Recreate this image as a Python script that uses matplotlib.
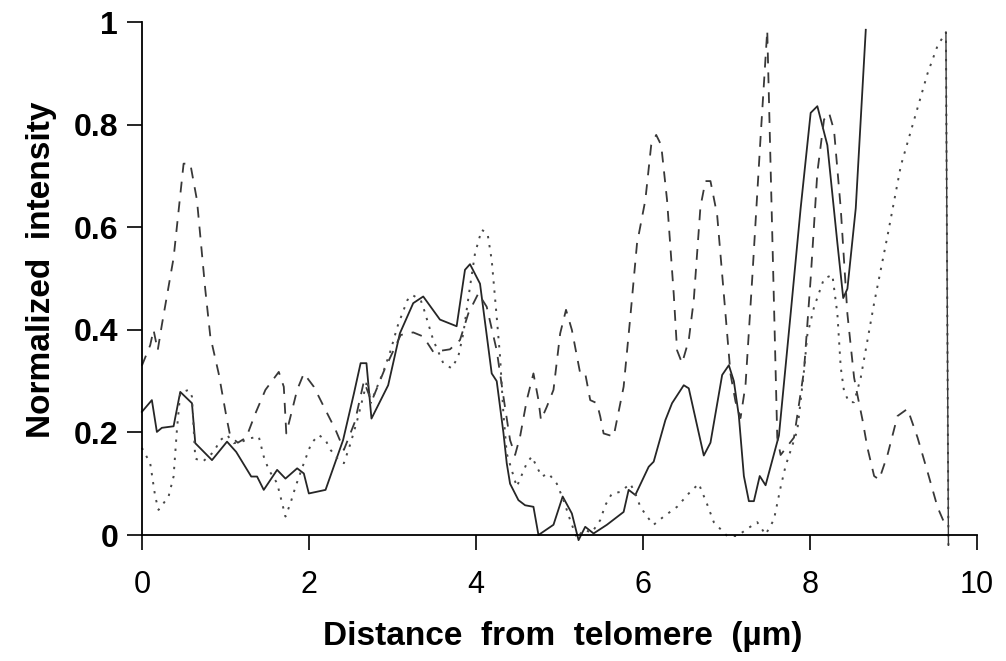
import numpy as np
import matplotlib
matplotlib.use("Agg")
import matplotlib.pyplot as plt

plt.rcParams['font.family'] = ['Liberation Sans', 'DejaVu Sans']

# solid profile
solid_x = [0, 0.12, 0.18, 0.24, 0.38, 0.46, 0.6, 0.64, 0.84, 1.02, 1.13, 1.31, 1.38, 1.46,
           1.62, 1.72, 1.86, 1.94, 2.0, 2.2, 2.41, 2.54, 2.62, 2.69, 2.75, 2.95, 3.09, 3.25,
           3.37, 3.57, 3.77, 3.87, 3.93, 4.05, 4.19, 4.25, 4.33, 4.37, 4.41, 4.51, 4.59, 4.69,
           4.75, 4.93, 5.04, 5.15, 5.23, 5.31, 5.41, 5.57, 5.77, 5.83, 5.91, 6.07, 6.13, 6.27,
           6.35, 6.49, 6.55, 6.73, 6.81, 6.95, 7.03, 7.09, 7.15, 7.21, 7.27, 7.33, 7.4, 7.47,
           7.63, 7.77, 7.89, 8.01, 8.09, 8.21, 8.33, 8.4, 8.45, 8.55, 8.67]
solid_y = [0.24, 0.263, 0.201, 0.209, 0.212, 0.279, 0.257, 0.179, 0.146, 0.182, 0.162, 0.114,
           0.114, 0.088, 0.127, 0.11, 0.13, 0.12, 0.081, 0.088, 0.185, 0.276, 0.335, 0.335,
           0.227, 0.292, 0.393, 0.452, 0.465, 0.42, 0.407, 0.517, 0.528, 0.49, 0.315, 0.3,
           0.2, 0.14, 0.1, 0.068, 0.058, 0.055, 0.0, 0.02, 0.075, 0.042, -0.01, 0.016, 0.003,
           0.02, 0.045, 0.088, 0.078, 0.133, 0.143, 0.224, 0.257, 0.292, 0.286, 0.155, 0.18,
           0.312, 0.331, 0.3, 0.232, 0.115, 0.066, 0.066, 0.115, 0.097, 0.194, 0.431, 0.637,
           0.823, 0.836, 0.76, 0.569, 0.462, 0.48, 0.637, 0.985]

# dashed profile
dash_x = [0, 0.1, 0.14, 0.19, 0.24, 0.38, 0.5, 0.58, 0.66, 0.76, 0.82, 0.92, 1.02, 1.06,
          1.15, 1.25, 1.36, 1.48, 1.64, 1.7, 1.73, 1.86, 1.94, 2.06, 2.18, 2.32, 2.42, 2.55,
          2.66, 2.75, 2.9, 3.1, 3.25, 3.37, 3.49, 3.69, 3.81, 3.91, 4.03, 4.13, 4.25, 4.33,
          4.41, 4.47, 4.53, 4.61, 4.69, 4.75, 4.78, 4.85, 4.93, 5.01, 5.08, 5.15, 5.25, 5.31,
          5.37, 5.45, 5.49, 5.53, 5.65, 5.77, 5.85, 5.93, 6.03, 6.1, 6.16, 6.22, 6.29, 6.37,
          6.41, 6.47, 6.55, 6.61, 6.69, 6.75, 6.81, 6.89, 6.99, 7.05, 7.11, 7.17, 7.23, 7.31,
          7.41, 7.49, 7.61, 7.65, 7.81, 7.93, 8.01, 8.09, 8.17, 8.23, 8.29, 8.37, 8.45, 8.53,
          8.57, 8.63, 8.69, 8.77, 8.83, 8.93, 9.05, 9.17, 9.29, 9.41, 9.53, 9.62]
dash_y = [0.33, 0.37, 0.4, 0.36, 0.41, 0.54, 0.724, 0.724, 0.653, 0.478, 0.387, 0.315, 0.224,
          0.192, 0.18, 0.19, 0.237, 0.283, 0.318, 0.289, 0.198, 0.283, 0.315, 0.289, 0.25,
          0.205, 0.166, 0.22, 0.3, 0.26, 0.32, 0.39, 0.395, 0.387, 0.357, 0.362, 0.38, 0.432,
          0.471, 0.445, 0.36, 0.27, 0.185, 0.156, 0.192, 0.263, 0.315, 0.263, 0.224, 0.25,
          0.283, 0.393, 0.439, 0.4, 0.315, 0.315, 0.263, 0.257, 0.231, 0.198, 0.192, 0.289,
          0.425, 0.568, 0.653, 0.76, 0.78, 0.76, 0.653, 0.47, 0.36, 0.335, 0.38, 0.458, 0.64,
          0.69, 0.69, 0.624, 0.431, 0.314, 0.26, 0.228, 0.293, 0.5, 0.775, 0.984, 0.19, 0.156,
          0.19, 0.32, 0.5, 0.707, 0.81, 0.823, 0.789, 0.637, 0.431, 0.307, 0.273, 0.225, 0.17,
          0.115, 0.108, 0.156, 0.232, 0.246, 0.19, 0.123, 0.054, 0.02]

# dotted profile
dot_x = [0, 0.1, 0.16, 0.2, 0.32, 0.38, 0.42, 0.46, 0.56, 0.6, 0.64, 0.73, 0.86, 0.94, 1.02,
         1.1, 1.2, 1.28, 1.4, 1.46, 1.52, 1.62, 1.68, 1.72, 1.78, 1.84, 1.94, 2.03, 2.12,
         2.2, 2.26, 2.36, 2.42, 2.5, 2.58, 2.66, 2.7, 2.74, 2.9, 2.98, 3.06, 3.18, 3.24,
         3.34, 3.38, 3.49, 3.61, 3.71, 3.79, 3.85, 3.93, 3.99, 4.07, 4.14, 4.19, 4.25, 4.29,
         4.33, 4.37, 4.49, 4.61, 4.67, 4.73, 4.79, 4.87, 4.97, 5.05, 5.13, 5.21, 5.29, 5.39,
         5.49, 5.55, 5.63, 5.73, 5.85, 5.91, 5.97, 6.05, 6.13, 6.25, 6.41, 6.55, 6.67, 6.77,
         6.85, 7.01, 7.13, 7.25, 7.37, 7.47, 7.57, 7.65, 7.71, 7.85, 7.93, 7.97, 8.05, 8.17,
         8.27, 8.33, 8.37, 8.41, 8.47, 8.53, 8.61, 8.77, 8.93, 9.09, 9.25, 9.41, 9.53, 9.63,
         9.66]
dot_y = [0.17, 0.14, 0.075, 0.049, 0.075, 0.114, 0.205, 0.277, 0.283, 0.27, 0.149, 0.143,
         0.162, 0.185, 0.195, 0.179, 0.182, 0.188, 0.192, 0.153, 0.127, 0.101, 0.062, 0.036,
         0.062, 0.094, 0.14, 0.179, 0.195, 0.185, 0.166, 0.146, 0.14, 0.179, 0.224, 0.276,
         0.302, 0.257, 0.322, 0.36, 0.406, 0.458, 0.468, 0.458, 0.439, 0.38, 0.335, 0.325,
         0.348, 0.393, 0.484, 0.549, 0.595, 0.588, 0.536, 0.425, 0.348, 0.237, 0.159, 0.094,
         0.14, 0.153, 0.133, 0.114, 0.12, 0.1, 0.068, 0.029, -0.006, 0.01, 0.005, 0.029,
         0.058, 0.081, 0.084, 0.1, 0.081, 0.055, 0.036, 0.02, 0.036, 0.055, 0.081, 0.1, 0.06,
         0.025, -0.002, -0.002, 0.012, 0.025, 0.001, 0.03, 0.093, 0.135, 0.204, 0.32, 0.39,
         0.444, 0.5, 0.507, 0.431, 0.327, 0.28, 0.259, 0.259, 0.307, 0.452, 0.583, 0.72,
         0.81, 0.9, 0.954, 0.98, -0.02]

x_ticks = [0, 2, 4, 6, 8, 10]
y_ticks = [0, 0.2, 0.4, 0.6, 0.8, 1]
y_tick_labels = ['0', '0.2', '0.4', '0.6', '0.8', '1']

fig = plt.figure(figsize=(10.06, 6.61), dpi=100)
ax = fig.add_axes([0.141, 0.1906, 0.830, 0.776])

ax.plot(solid_x, solid_y, '-', color='#262626', lw=1.3, clip_on=False)
ax.plot(dash_x, dash_y, color='#383838', lw=1.3, dashes=(6, 5), clip_on=False)
ax.plot(dot_x, dot_y, color='#484848', lw=1.4, dashes=(1.2, 3.5), clip_on=False)
# the last drop of the dotted trace prints as a nearly solid rule
ax.plot(dot_x[-2:], dot_y[-2:], '-', color='#3a3a3a', lw=1.0, clip_on=False)

ax.set_xlim(0, 10)
ax.set_ylim(0, 1)
for s in ['top', 'right']:
    ax.spines[s].set_visible(False)
ax.spines['left'].set_linewidth(1.3)
ax.spines['bottom'].set_linewidth(1.3)

ax.set_xticks(x_ticks)
ax.set_xticklabels([str(t) for t in x_ticks], fontsize=22)
ax.set_yticks(y_ticks)
ax.set_yticklabels(y_tick_labels, fontsize=23, fontweight='bold')
ax.tick_params(axis='x', direction='out', length=11, width=1.2, pad=14)
ax.tick_params(axis='y', direction='out', length=11, width=1.2, pad=6)

ax.set_xlabel('Distance  from  telomere  (\u00b5m)', fontsize=24, fontweight='bold',
              va='center')
ax.xaxis.set_label_coords(0.504, -0.197)
ax.set_ylabel('Normalized  intensity', fontsize=24, fontweight='bold', va='center')
ax.yaxis.set_label_coords(-0.12, 0.517)

fig.savefig('out.png', dpi=100)
